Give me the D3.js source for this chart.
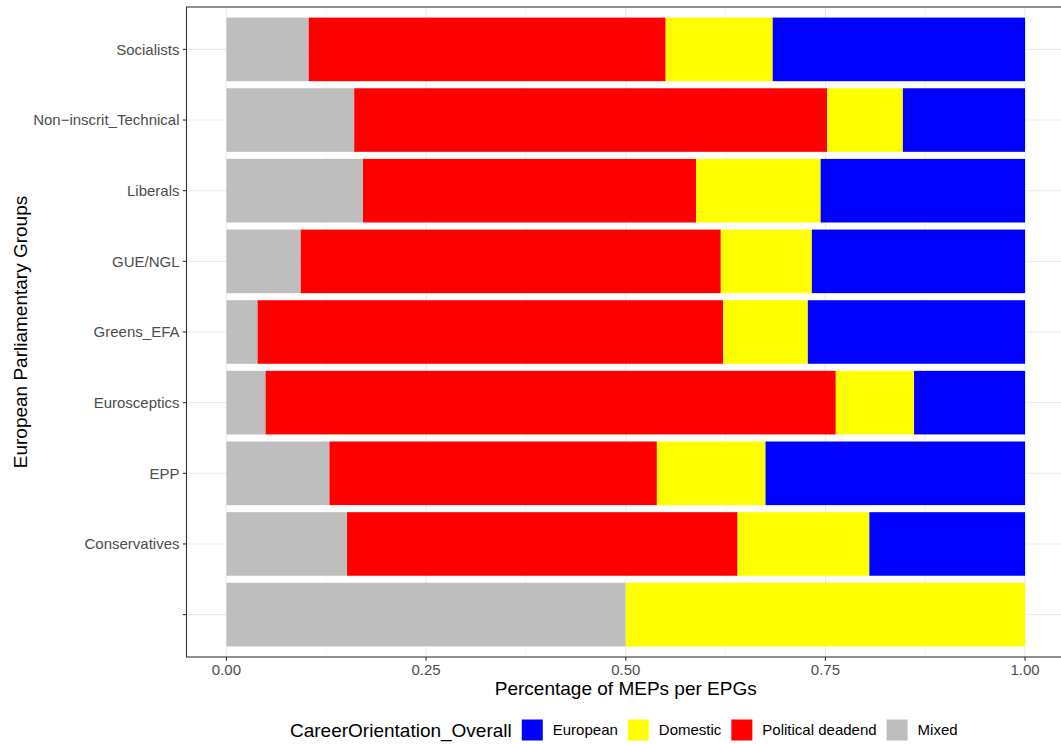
<!DOCTYPE html>
<html>
<head>
<meta charset="utf-8">
<script src="https://cdn.jsdelivr.net/npm/d3@7"></script>
<style>
  html, body { margin: 0; padding: 0; background: #fff; }
  svg { display: block; font-family: "Liberation Sans", Arial, Helvetica, sans-serif; }
</style>
</head>
<body>
<svg id="chart" width="1061" height="744"></svg>
<script>
// ---- data (top to bottom) ----
const groups = ["Socialists", "Non\u2212inscrit_Technical", "Liberals", "GUE/NGL", "Greens_EFA",
                "Eurosceptics", "EPP", "Conservatives", ""];
const mixed     = [0.103, 0.160, 0.171, 0.093, 0.039, 0.049, 0.129, 0.151, 0.500];
const deadend   = [0.447, 0.592, 0.417, 0.526, 0.583, 0.714, 0.410, 0.489, 0.000];
const domestic  = [0.134, 0.095, 0.156, 0.114, 0.106, 0.098, 0.136, 0.165, 0.500];
const european  = [0.316, 0.153, 0.256, 0.267, 0.272, 0.139, 0.325, 0.195, 0.000];
const seriesNames = ["Mixed", "Political deadend", "Domestic", "European"]; // stacking order, left to right
const legendOrder = ["European", "Domestic", "Political deadend", "Mixed"];
const colors = { "European": "#0000FF", "Domestic": "#FFFF00", "Political deadend": "#FF0000", "Mixed": "#BEBEBE" };
const xTicks = [0, 0.25, 0.5, 0.75, 1];
const xMinor = [0.125, 0.375, 0.625, 0.875];

const svg = d3.select("#chart");
const P = { left: 186.5, top: 7, right: 1065, bottom: 657 };

const x = d3.scaleLinear().domain([-0.05, 1.05]).range([P.left, P.right]);
// discrete expansion 0.6 with bar width 0.9
const y = d3.scalePoint().domain(groups).range([P.top, P.bottom]).padding(0.6);
const step = y.step();
const yc = g => y(g);
const bh = step * 0.9;

const rows = groups.map((g, i) => ({ group: g, "Mixed": mixed[i], "Political deadend": deadend[i],
                                      "Domestic": domestic[i], "European": european[i] }));
const stack = d3.stack().keys(seriesNames)(rows);

// grid
const grid = svg.append("g");
xMinor.forEach(v => grid.append("line").attr("x1", x(v)).attr("x2", x(v)).attr("y1", P.top).attr("y2", P.bottom)
  .attr("stroke", "#EBEBEB").attr("stroke-width", 0.55));
xTicks.forEach(v => grid.append("line").attr("x1", x(v)).attr("x2", x(v)).attr("y1", P.top).attr("y2", P.bottom)
  .attr("stroke", "#EBEBEB").attr("stroke-width", 1.1));
groups.forEach(g => grid.append("line").attr("x1", P.left).attr("x2", P.right).attr("y1", yc(g)).attr("y2", yc(g))
  .attr("stroke", "#EBEBEB").attr("stroke-width", 1.1));

// bars
stack.forEach(s => {
  svg.append("g").attr("fill", colors[s.key]).selectAll("rect").data(s).join("rect")
    .attr("x", d => x(d[0]))
    .attr("width", d => Math.max(0, x(d[1]) - x(d[0])))
    .attr("y", d => yc(d.data.group) - bh / 2)
    .attr("height", bh);
});

// panel border
svg.append("rect").attr("x", P.left).attr("y", P.top).attr("width", P.right - P.left).attr("height", P.bottom - P.top)
  .attr("fill", "none").attr("stroke", "#333333").attr("stroke-width", 1.1);

// x axis
const xa = svg.append("g");
xTicks.forEach(v => {
  xa.append("line").attr("x1", x(v)).attr("x2", x(v)).attr("y1", P.bottom).attr("y2", P.bottom + 3.7)
    .attr("stroke", "#333333").attr("stroke-width", 1.1);
  xa.append("text").attr("x", x(v)).attr("y", 675).attr("text-anchor", "middle")
    .attr("font-size", 15).attr("fill", "#4D4D4D").text(d3.format(".2f")(v));
});
// y axis
const ya = svg.append("g");
groups.forEach(g => {
  ya.append("line").attr("x1", P.left - 3.7).attr("x2", P.left).attr("y1", yc(g)).attr("y2", yc(g))
    .attr("stroke", "#333333").attr("stroke-width", 1.1);
  ya.append("text").attr("x", P.left - 7).attr("y", yc(g)).attr("dy", "0.36em").attr("text-anchor", "end")
    .attr("font-size", 15).attr("fill", "#4D4D4D").text(g);
});

// axis titles
svg.append("text").attr("x", (P.left + P.right) / 2).attr("y", 695).attr("text-anchor", "middle")
  .attr("font-size", 19).attr("fill", "#000").text("Percentage of MEPs per EPGs");
svg.append("text").attr("transform", `translate(27,${(P.top + P.bottom) / 2}) rotate(-90)`).attr("text-anchor", "middle")
  .attr("font-size", 19).attr("fill", "#000").text("European Parliamentary Groups");

// legend
const lg = svg.append("g");
const ly = 730;
let cx = 0;
const title = lg.append("text").attr("x", 0).attr("y", ly).attr("dy", "0.36em").attr("font-size", 19)
  .attr("fill", "#000").text("CareerOrientation_Overall");
cx = title.node().getComputedTextLength() + 10;
legendOrder.forEach((k, i) => {
  lg.append("rect").attr("x", cx).attr("y", ly - 10.5).attr("width", 21).attr("height", 21).attr("fill", colors[k]);
  cx += 21 + 10;
  const t = lg.append("text").attr("x", cx).attr("y", ly).attr("dy", "0.36em").attr("font-size", 15)
    .attr("fill", "#000").text(k);
  cx += t.node().getComputedTextLength() + (i < legendOrder.length - 1 ? 10 : 0);
});
lg.attr("transform", `translate(290,0)`);
</script>
</body>
</html>
